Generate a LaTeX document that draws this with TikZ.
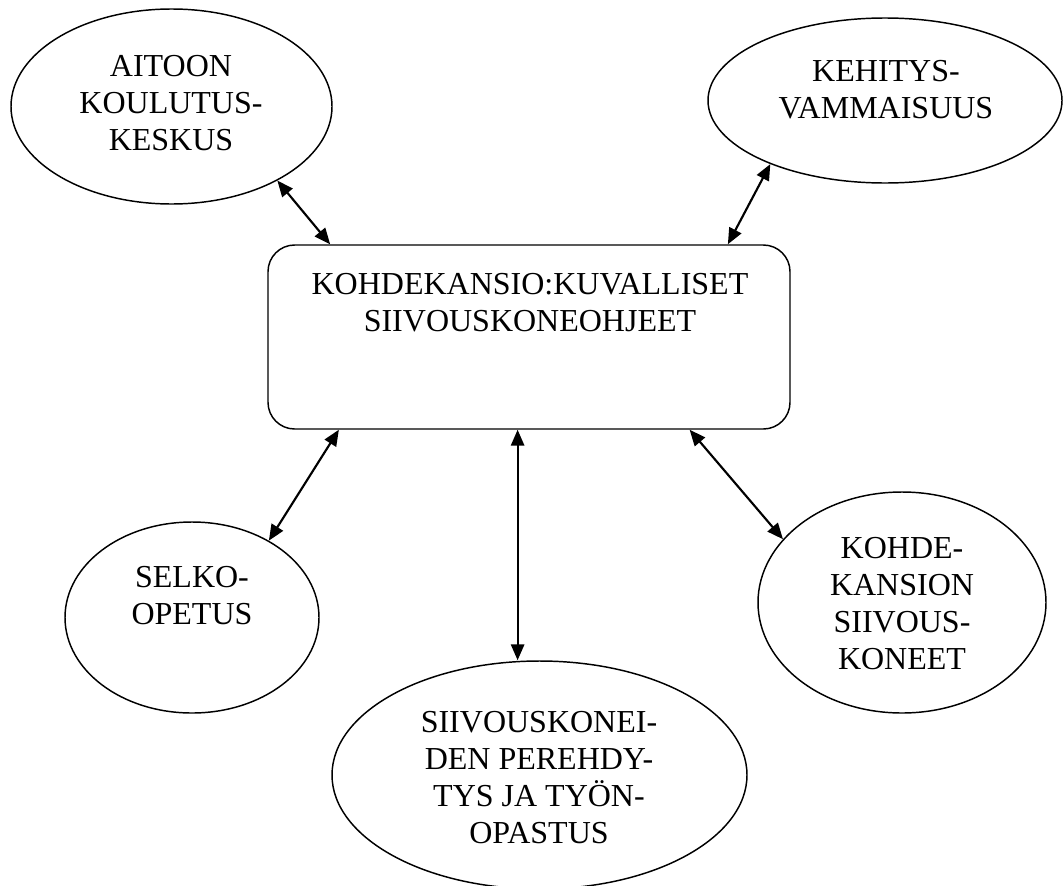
\documentclass[tikz,border=0pt]{standalone}
\usepackage{fontspec}
\setmainfont{Liberation Serif}
\usetikzlibrary{shapes.geometric,arrows.meta}
\begin{document}
\begin{tikzpicture}[x=0.75pt,y=-0.75pt,
  oval/.style={draw,line width=1.1pt,ellipse,inner sep=0pt},
  box/.style={draw,line width=1.1pt,rectangle,rounded corners=20pt,inner sep=0pt},
  txt/.style={inner sep=0pt,align=center,font=\fontsize{24pt}{27.75pt}\selectfont},
  arr/.style={line width=1.6pt,{Triangle[length=12pt,width=10pt]}-{Triangle[length=12pt,width=10pt]}}]
\useasboundingbox (0,0) rectangle (1063,885);
\node[oval,minimum width=240.75pt,minimum height=146.25pt] (aitoon) at (171.5,106.5) {};
\node[txt] (aitoontxt) at (171,103) {AITOON\\KOULUTUS-\\KESKUS};
\node[oval,minimum width=265.5pt,minimum height=123.75pt] (kehitys) at (885,100.5) {};
\node[txt] (kehitystxt) at (886,90) {KEHITYS-\\VAMMAISUUS};
\node[box,minimum width=391.5pt,minimum height=138pt] (kohde) at (529,337) {};
\node[txt] (kohdetxt) at (530,302.5) {KOHDEKANSIO:KUVALLISET\\SIIVOUSKONEOHJEET};
\node[oval,minimum width=190.5pt,minimum height=143.25pt] (selko) at (192,617.5) {};
\node[txt] (selkotxt) at (192,596) {SELKO-\\OPETUS};
\node[oval,minimum width=216pt,minimum height=165.75pt] (kansio) at (902,602.5) {};
\node[txt] (kansiotxt) at (902,604) {KOHDE-\\KANSION\\SIIVOUS-\\KONEET};
\node[oval,minimum width=311.25pt,minimum height=171pt] (pere) at (539.5,775) {};
\node[txt] (peretxt) at (539,777.5) {SIIVOUSKONEI-\\DEN PEREHDY-\\TYS JA TYÖN-\\OPASTUS};
\draw[arr] (aitoon.-35) -- (kohde.155.2);
\draw[arr] (kehitys.209.3) -- (kohde.25.4);
\draw[arr] (kohde.206.2) -- (selko.45.9);
\draw[arr] (kohde.-97.4) -- (kohde.-97.4 |- pere.north);
\draw[arr] (kohde.-30.06) -- (kansio.152.7);
\end{tikzpicture}
\end{document}
